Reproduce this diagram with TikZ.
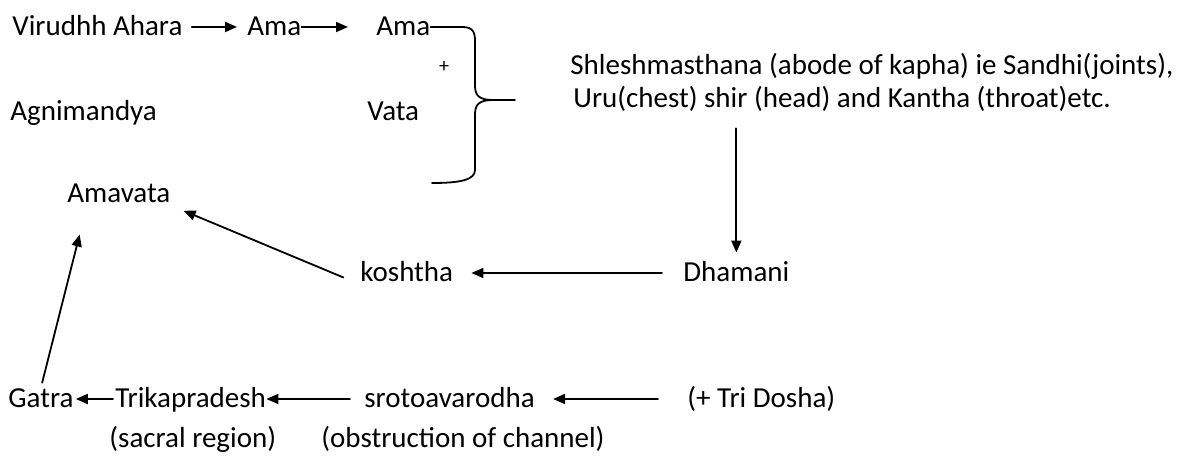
\documentclass[tikz,border=0pt]{standalone}
\usepackage{fontspec}
\setmainfont{Carlito}
\usepackage{tikz}
\usetikzlibrary{arrows.meta}
\usetikzlibrary{positioning}
\tikzset{
  lbl/.style={anchor=base west, inner xsep=0pt, inner ysep=0pt, text height=10pt, text depth=1pt, font=\fontsize{14.5}{17}\selectfont},
  arr/.style={line width=0.9pt, -{Triangle[length=6pt, width=5pt]}},
  bracket/.style={line width=0.9pt}
}
\begin{document}
\begin{tikzpicture}[line cap=round,line join=round,x=0.5pt,y=-0.5pt]
\useasboundingbox (0,0) rectangle (1188,459);
\node[lbl] (ahara) at (12,36) {Virudhh Ahara};
\node[lbl] (ama) at (247,36) {Ama};
\node[lbl] (amab) at (376,36) {Ama};
\node[font=\fontsize{10}{12}\selectfont, inner sep=0pt] (plus) at (444,67) {+};
\node[lbl] (vata) at (367,121) {Vata};
\node[lbl] (agni) at (10,121) {Agnimandya};
\node[lbl] (amavata) at (67,203) {Amavata};
\node[lbl] (shlesh) at (570,75) {Shleshmasthana (abode of kapha) ie Sandhi(joints),};
\node[lbl] (uru) at (573,108) {Uru(chest) shir (head) and Kantha (throat)etc.};
\node[lbl] (dhamani) at (683,282) {Dhamani};
\node[lbl] (koshtha) at (360,282) {koshtha};
\node[lbl] (gatra) at (8,408) {Gatra};
\node[lbl] (trika) at (115,408) {Trikapradesh};
\node[lbl] (sroto) at (364,408) {srotoavarodha};
\node[lbl] (tridosha) at (687,408) {(+ Tri Dosha)};
\node[lbl] (sacral) at (109,447) {(sacral region)};
\node[lbl] (obstr) at (321,447) {(obstruction of channel)};
\coordinate (bracetip) at (515,100);
\draw[bracket] (amab.east) -- (462,27) .. controls (472,27) and (475,31) .. (475,41) -- (475,86) .. controls (475,96) and (480,100) .. (493,100) -- (bracetip);
\draw[bracket] (493,100) .. controls (480,100) and (475,104) .. (475,114) -- (475,170) .. controls (475,180) and (460,183) .. (432,183);
\draw[arr, shorten <=4.5pt, shorten >=5pt] (ahara) -- (ama);
\draw[arr, shorten >=14pt] (ama) -- (amab);
\draw[arr, shorten <=9pt, shorten >=4.5pt] (uru.south -| dhamani.north) -- (dhamani.north);
\draw[arr, shorten <=10.5pt, shorten >=9pt] (dhamani) -- (koshtha);
\draw[arr, shorten <=9pt, shorten >=7pt] (koshtha.south west) -- (amavata.south east);
\draw[arr, shorten <=2.5pt, shorten >=15pt] (gatra.north) -- ([xshift=10pt]amavata.south west);
\draw[arr, shorten <=1pt, shorten >=1pt] (trika) -- (gatra);
\draw[arr, shorten <=7pt] (sroto) -- (trika);
\draw[arr, shorten <=14.5pt, shorten >=9pt] (tridosha) -- (sroto);
\end{tikzpicture}
\end{document}
